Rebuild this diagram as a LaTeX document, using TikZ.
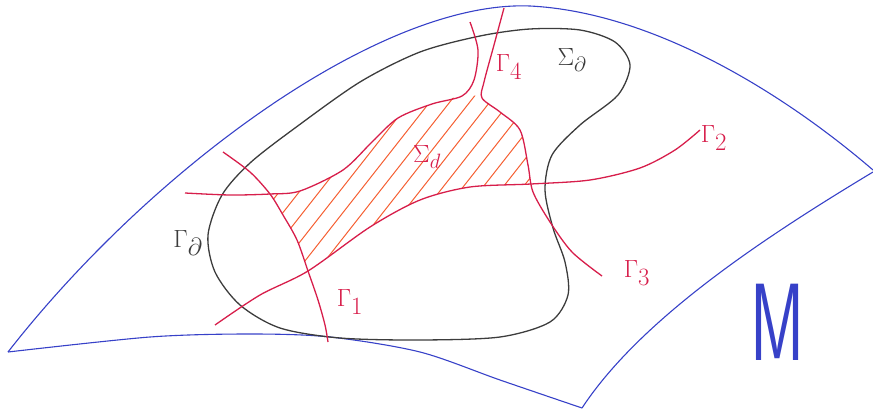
\documentclass[tikz,border=0pt]{standalone}
\definecolor{surfblue}{RGB}{55,65,200}
\definecolor{gred}{RGB}{215,30,75}
\definecolor{hatchc}{RGB}{245,95,50}
\definecolor{blobc}{RGB}{60,60,60}
\tikzset{
  surf/.style={draw=surfblue, line width=1.1pt},
  gcurve/.style={draw=gred, line width=1.3pt},
  blob/.style={draw=blobc, line width=1.3pt},
  hline/.style={draw=hatchc, line width=1.0pt},
  glabel/.style={text=gred, font=\fontsize{34}{38}\selectfont, inner sep=0pt},
  blabel/.style={text=blobc, font=\fontsize{29}{32}\selectfont, inner sep=0pt}
}
\begin{document}
\begin{tikzpicture}[x=1pt,y=-1pt]
\useasboundingbox (0,0) rectangle (873,412);
% surface M
\draw[surf] (8,352) .. controls (150,170) and (380,0) .. (530,6)
  .. controls (650,12) and (780,90) .. (873,170);
\draw[surf] (873,172) .. controls (760,240) and (640,320) .. (582,408);
\draw[surf] plot[smooth] coordinates {(8,352) (150,337) (250,334) (330,337) (420,352) (500,380) (582,408)};
% hatching
\begin{scope}
\clip plot[smooth] coordinates {(270,194) (300,191) (343,170) (372,142) (398,118) (432,104) (462,96) (482,96)}
  -- plot[smooth] coordinates {(482,98) (500,112) (520,130) (528,165) (531,184)}
  -- plot[smooth] coordinates {(531,184) (470,187) (420,200) (370,227) (308,271)}
  -- plot[smooth] coordinates {(308,271) (297,240) (283,215) (270,194)} -- cycle;
\foreach \x in {0,20,...,700} {
  \draw[hline] (\x,420) -- ++(330,-420);
}
\end{scope}
% boundary Sigma_partial
\draw[blob] plot[smooth cycle] coordinates {(480,36) (530,29) (580,30) (615,42) (630,65) (618,95) (580,125) (552,155) (545,190) (553,228) (565,262) (568,295) (550,322) (500,337) (420,340) (340,338) (280,328) (240,305) (215,272) (208,235) (222,195) (250,163) (295,128) (360,82) (420,52)};
% red curves
\draw[gcurve] plot[smooth] coordinates {(185,193) (230,195) (270,194) (300,191) (343,170) (372,142) (398,118) (432,104) (462,96) (474,80) (478,50) (470,22)};
\draw[gcurve] plot[smooth] coordinates {(504,8) (494,45) (484,82) (482,98) (500,112) (520,130) (528,165) (533,192) (550,222) (572,252) (602,276)};
\draw[gcurve] plot[smooth] coordinates {(215,325) (260,295) (308,271) (370,227) (420,200) (470,187) (531,184) (590,180) (640,168) (675,150) (700,130)};
\draw[gcurve] plot[smooth] coordinates {(223,152) (250,172) (270,194) (283,215) (297,240) (308,271) (318,300) (325,325) (328,342)};
% labels
\node[glabel] (g4) at (509,67) {$\Gamma_4$};
\node[glabel] (g2) at (714,138) {$\Gamma_2$};
\node[glabel] (g3) at (637,273) {$\Gamma_3$};
\node[glabel] (g1) at (350,302) {$\Gamma_1$};
\node[blabel, font=\fontsize{34}{38}\selectfont] (gd) at (188,243) {$\Gamma_\partial$};
\node[blabel] (sd) at (572,60) {$\Sigma_\partial$};
\node[glabel, font=\fontsize{30}{34}\selectfont] (sdl) at (427,157) {$\Sigma_d$};
\node[text=surfblue, inner sep=0pt, font=\fontsize{110}{120}\sffamily, xscale=0.6] (m) at (778,322) {M};
\end{tikzpicture}
\end{document}
